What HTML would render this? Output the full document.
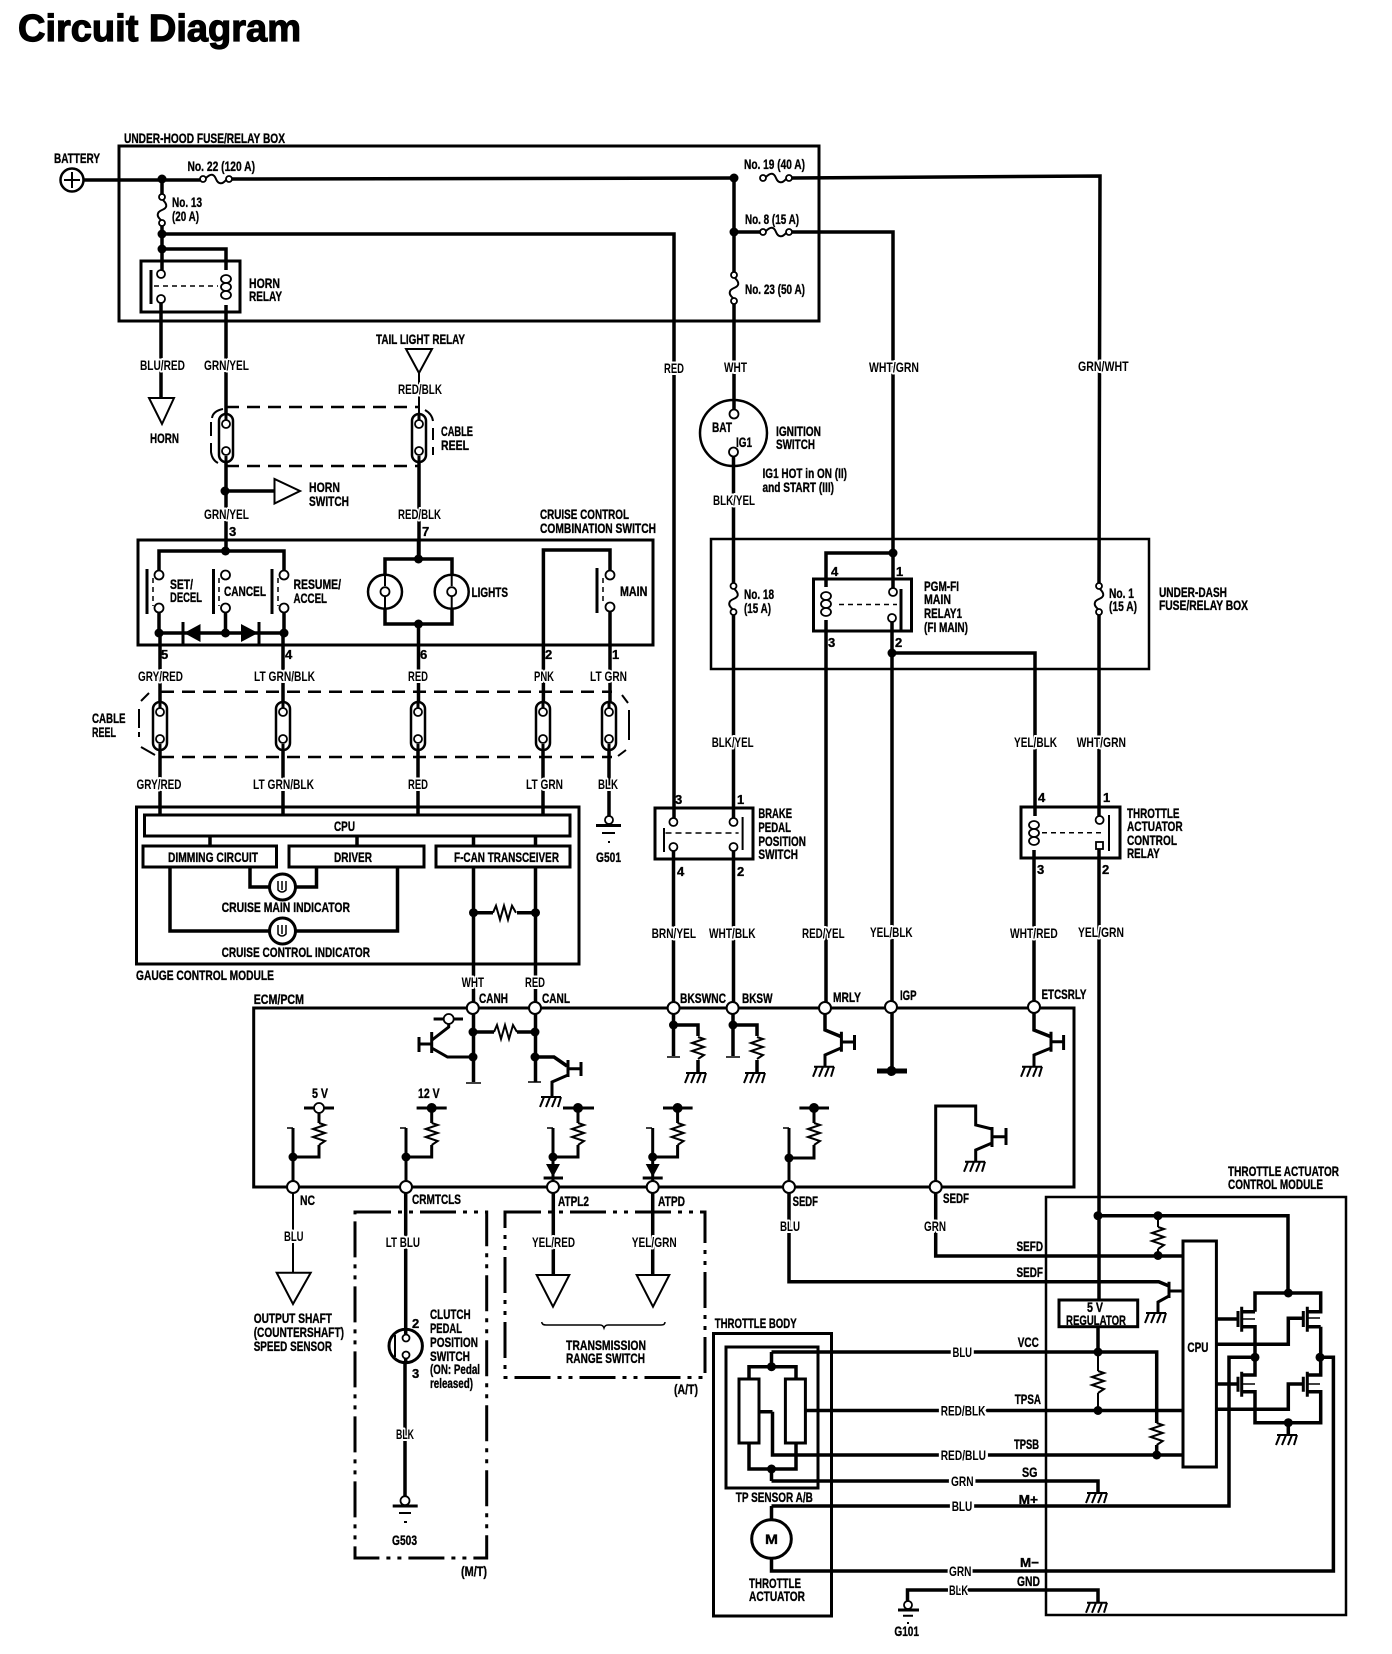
<!DOCTYPE html>
<html><head><meta charset="utf-8"><title>Circuit Diagram</title>
<style>
html,body{margin:0;padding:0;background:#fff}
svg{display:block}
text{font-family:"Liberation Sans",sans-serif;font-weight:700;font-size:14px;fill:#000;stroke:#000;stroke-width:.35px}
.h{paint-order:stroke;stroke:#fff;stroke-width:4px;stroke-linejoin:round}
.n13{font-size:13px}
.w{fill:none;stroke:#000;stroke-width:3.5;stroke-linejoin:miter}
.b{fill:none;stroke:#000;stroke-width:3}
.t{fill:none;stroke:#000;stroke-width:2}
.f{fill:none;stroke:#000;stroke-width:1.5}
.d{fill:none;stroke:#000;stroke-width:2.5;stroke-dasharray:13 8}
.dd{fill:none;stroke:#000;stroke-width:3;stroke-dasharray:36 7 4 7 4 7}
.k{fill:#000;stroke:none}
.o{fill:#fff;stroke:#000;stroke-width:1.8}
.n{fill:#fff;stroke:#000;stroke-width:2}
.tr{fill:#fff;stroke:#000;stroke-width:2}
</style></head><body>
<svg width="1392" height="1654" viewBox="0 0 1392 1654" xmlns="http://www.w3.org/2000/svg">
<defs>
<g id="hat"><path class="t" d="M-10 0H10M-7 0L-11 10M-1 0L-5 10M5 0L1 10M10 0L7 10"/></g>
<path id="rv" class="t" d="M0 0L6 2L-6 6L6 10L-6 14L6 18L0 22"/>
<path id="rh" class="t" d="M0 0L3 -7L7 7L11 -7L15 7L19 -7L23 0"/>
<g id="fh"><path class="t" d="M3 -1C8 -6 11 -5 13 0C15 5 19 6 23 1"/><circle class="o" cx="0" cy="0" r="3"/><circle class="o" cx="26" cy="0" r="3"/></g>
<g id="fv"><path class="t" d="M1 3C6 8 5 11 0 13C-5 15 -6 19 -1 23"/><circle class="o" cx="0" cy="0" r="3"/><circle class="o" cx="0" cy="26" r="3"/></g>
<g id="cr"><rect x="-7" y="0" width="14" height="48" rx="7" fill="#fff" stroke="#000" stroke-width="2.5"/><path class="b" d="M0 0V6M0 42V48"/><circle class="o" cx="0" cy="10" r="4"/><circle class="o" cx="0" cy="37" r="4"/></g>
<g id="coil"><ellipse class="o" cx="0" cy="4" rx="5" ry="4"/><ellipse class="o" cx="0" cy="12" rx="5" ry="4"/><ellipse class="o" cx="0" cy="20" rx="5" ry="4"/></g>
<circle id="j" class="k" r="4.5"/>
</defs>

<!-- title -->
<text x="18" y="41" textLength="283" lengthAdjust="spacingAndGlyphs" style="font-size:38px;stroke-width:1.2px">Circuit Diagram</text>

<!-- boxes -->
<rect class="b" x="119" y="146" width="700" height="175"/>
<rect class="b" x="141" y="261" width="99" height="51"/>
<rect class="t" x="711" y="539" width="438" height="130" style="stroke-width:2.5"/>
<rect class="b" x="138" y="540" width="515" height="105"/>
<rect class="b" x="813.5" y="579" width="98" height="52"/>
<rect class="b" x="655" y="808" width="98" height="51"/>
<rect class="b" x="1021" y="807" width="99" height="51"/>
<rect class="b" x="136.5" y="807" width="442.5" height="157"/>
<rect class="b" x="144.5" y="815" width="425.5" height="21"/>
<rect class="b" x="143" y="846" width="133.5" height="21"/>
<rect class="b" x="289" y="846" width="135" height="21"/>
<rect class="b" x="436" y="846" width="134" height="21"/>
<path class="b" d="M253.7 1008H1074V1187H253.7Z"/>
<rect class="dd" x="355" y="1212" width="131.7" height="346"/>
<rect class="dd" x="505" y="1212" width="200" height="165.500"/>
<rect class="b" x="713.500" y="1333.500" width="118" height="282.500"/>
<rect class="b" x="726" y="1347" width="92" height="141"/>
<rect class="t" x="1046" y="1197" width="300" height="418" style="stroke-width:2.5"/>

<!-- top wires -->
<circle cx="72" cy="180" r="11.500" fill="#fff" stroke="#000" stroke-width="2.500"/>
<path class="t" d="M64 180H80M72 172V188"/>
<path class="w" d="M84 180H200M232 179L734 178M792 178L1100 176L1099 583M1099 614V816M1099 849V1300"/>
<use href="#fh" x="203" y="179"/><use href="#fh" x="763" y="178"/><use href="#fh" x="763" y="232"/>
<path class="w" d="M734 178V272M734 302V410M733.500 455V583M733.500 615V818M733.500 851V1008"/>
<use href="#fv" x="734" y="275"/><use href="#fv" x="733.500" y="586"/><use href="#fv" x="1099" y="586"/>
<path class="w" d="M734 232H760M792 232H893V588M892 622V1071"/>
<path class="w" d="M893 553H826V587M826 620V1008"/>
<path class="w" d="M892 653H1035V816M1034 850V1008"/>
<path class="w" d="M162 179V194M162 226V270M161 303V398"/>
<use href="#fv" x="162" y="197"/>
<path class="w" d="M162 234H674V818M673.500 851V1008"/>
<path class="w" d="M162 249H226V270M226 305V551"/>
<use href="#j" x="162" y="179"/><use href="#j" x="162" y="234"/><use href="#j" x="162" y="249"/>
<use href="#j" x="734" y="178"/><use href="#j" x="734" y="232"/><use href="#j" x="893" y="553"/><use href="#j" x="892" y="653"/>
<!-- horn relay -->
<circle class="o" cx="161" cy="274" r="4"/><circle class="o" cx="161" cy="299" r="4"/>
<path class="b" d="M151 270V304"/><path class="f" d="M154 286H218" stroke-dasharray="5 4"/>
<use href="#coil" x="226" y="275"/>
<polygon class="tr" points="149,398 174,398 162,424"/>
<!-- tail light -->
<polygon class="tr" points="406,349 432,349 419,373"/>
<path class="t" d="M419 373V414"/>
<path class="w" d="M419 461V559"/>
<path class="d" d="M226 407H418M226 466H418"/>
<use href="#cr" x="226" y="414"/><use href="#cr" x="419" y="414"/>
<path class="t" d="M223 409Q213 411 212 418M211 422V436M211 443V452Q212 460 218 463M425 410Q432 414 433 421M433 428V440M433 447V455"/>
<path class="w" d="M226 491H274"/><use href="#j" x="225" y="491"/>
<polygon class="tr" points="274.500,479 274.500,503.500 300,491"/>
<!-- ignition -->
<ellipse cx="733.500" cy="433" rx="33.500" ry="33" fill="#fff" stroke="#000" stroke-width="2.500"/>
<path class="w" d="M734 399V410M733.500 456V467"/>
<circle class="o" cx="734" cy="414" r="4.500"/><circle class="o" cx="733.500" cy="452" r="4.500"/>
<!-- pgm relay -->
<use href="#coil" x="826" y="592"/>
<circle class="o" cx="893" cy="592" r="4"/><circle class="o" cx="892" cy="618" r="4"/>
<path class="b" d="M901 589V632"/><path class="f" d="M839 604.500H897" stroke-dasharray="5 4"/>
<!-- switch box -->
<path class="w" d="M159 570V551H284V570M159 612V633M225.500 612V633M284 612V633M159 633H284M160 633V702M283 633V702"/>
<circle class="o" cx="159" cy="575" r="4.500"/><circle class="o" cx="159" cy="608" r="4.500"/>
<circle class="o" cx="225.500" cy="575" r="4.500"/><circle class="o" cx="225.500" cy="608" r="4.500"/>
<circle class="o" cx="284" cy="575" r="4.500"/><circle class="o" cx="284" cy="608" r="4.500"/>
<path class="b" d="M147 569V614M213.500 569V614M272 569V614"/>
<path class="f" d="M153 578V606M219 578V606M278 578V606" stroke-dasharray="5 4"/>
<polygon class="k" points="200.500,624 200.500,642 184,633"/><path class="b" d="M183 622V644"/>
<polygon class="k" points="241,624 241,642 258,633"/><path class="b" d="M259 622V644"/>
<use href="#j" x="159" y="633"/><use href="#j" x="225.500" y="633"/><use href="#j" x="284" y="633"/><use href="#j" x="225.500" y="551"/>
<path class="w" d="M418.500 540V559M385 559H452V624H385ZM418.500 624V702"/>
<use href="#j" x="418.500" y="559"/><use href="#j" x="418.500" y="624"/>
<circle cx="385" cy="591.700" r="17" fill="#fff" stroke="#000" stroke-width="2.500"/>
<circle cx="451.700" cy="591.700" r="17" fill="#fff" stroke="#000" stroke-width="2.500"/>
<path class="t" d="M385 575V586M385 597V608M451.700 575V586M451.700 597V608"/>
<circle class="o" cx="385" cy="591.700" r="4.500"/><circle class="o" cx="451.700" cy="591.700" r="4.500"/>
<path class="w" d="M543.400 702V550H610V571M610 611V702"/>
<circle class="o" cx="610" cy="575" r="4.500"/><circle class="o" cx="610" cy="607" r="4.500"/>
<path class="b" d="M597 568V613"/><path class="f" d="M603 578V604" stroke-dasharray="5 4"/>
<!-- cable reel 2 -->
<path class="d" d="M161 691.700H612M161 757H612"/>
<path class="t" d="M149 693L141 701M139 709V728M139 732V737M141 747L155 755M622 695L628 703M629 710V740M626 750L618 756"/>
<use href="#cr" x="160" y="702"/><use href="#cr" x="283" y="702"/><use href="#cr" x="418" y="702"/><use href="#cr" x="543" y="702"/><use href="#cr" x="609" y="702"/>
<path class="w" d="M160 750V815M283 750V815M418 750V815M543 750V815M609 750V817"/>
<circle class="o" cx="609" cy="820" r="4"/>
<path class="b" d="M596 825.500H621"/><path class="t" d="M602 833H615M608 842H610"/>
<!-- gauge inner -->
<path class="w" d="M210 836V846M357 836V846M473.500 836V846M535.500 836V846"/>
<path class="w" d="M250 867V887H269M296 887H316.500V867M170 867V931H269M296 931H397.500V867"/>
<circle cx="282.500" cy="887" r="13" fill="#fff" stroke="#000" stroke-width="3"/>
<circle cx="282.500" cy="931" r="13" fill="#fff" stroke="#000" stroke-width="3"/>
<path class="f" d="M278 881V890Q282 894 286 890V881M282 881V890M278 925V934Q282 938 286 934V925M282 925V934"/>
<path class="w" d="M473.500 867V1082M535.500 867V1082"/>
<path class="w" d="M473.500 912.700H493M517 912.700H535.500"/><use href="#rh" x="493" y="912.700"/>
<use href="#j" x="473.500" y="912.700"/><use href="#j" x="535.500" y="912.700"/>
<!-- ECM inner -->
<path class="w" d="M473 1032H494M517 1032H535"/><use href="#rh" x="494" y="1032"/>
<use href="#j" x="473" y="1032"/><use href="#j" x="535" y="1032"/><use href="#j" x="473" y="1057"/><use href="#j" x="535" y="1057"/>
<path class="f" d="M466 1083H481M528 1082H541"/>
<path class="b" d="M433.600 1019H463M448.700 1019V1027L432 1040"/><circle class="o" cx="448.700" cy="1019" r="5"/>
<path class="b" d="M431.700 1032V1053M419 1044H431.700M419 1037V1052M431.700 1048L447.500 1057H473"/>
<path class="w" d="M535 1057H554L567 1066"/>
<path class="b" d="M568 1060V1077M568 1068.700H581M581 1062V1076M568 1075L552 1082V1097"/>
<use href="#hat" x="551" y="1097"/>
<!-- bk -->
<path class="w" d="M673.500 1007V1056M673.500 1025H698V1036M698 1060V1073M733 1007V1056M733 1025H757V1036M757 1060V1073"/>
<path class="f" d="M667 1057H680M726 1057H740"/>
<use href="#j" x="673.500" y="1025"/><use href="#j" x="733" y="1025"/>
<use href="#rv" x="698" y="1037"/><use href="#rv" x="757" y="1037"/>
<use href="#hat" x="696" y="1073"/><use href="#hat" x="755" y="1073"/>
<!-- MRLY -->
<path class="w" d="M825 1007V1030L841.400 1036.700"/>
<path class="b" d="M841.400 1031.700V1051.700M841.400 1042H854.500M854.500 1035V1050M841 1048L825 1055V1066.700"/>
<use href="#hat" x="824" y="1066.700"/>
<path class="w" d="M877 1071H907" style="stroke-width:5"/><circle class="k" cx="891.500" cy="1071" r="5"/>
<!-- ETCSRLY -->
<path class="w" d="M1034 1007V1030L1051 1036.700"/>
<path class="b" d="M1051 1031.700V1051.700M1051 1041.700H1063.600M1063.600 1035V1050M1051 1048L1034 1055V1066.700"/>
<use href="#hat" x="1032" y="1066.700"/>
<!-- pull-ups -->
<path class="b" d="M293 1128V1187M293 1157H319V1145M319 1123V1108M304 1108H334M406 1128V1187M406 1157H431.700V1145M431.700 1123V1108M416.600 1108H446.700M553 1128V1187M553 1157H578V1145M578 1123V1108M563 1108H594M652.700 1128V1187M652.700 1157H677.600V1145M677.600 1123V1108M663 1108H692.600M789 1128V1187M789 1158H814V1145M814 1123V1108M799.400 1108H829"/>
<path class="f" d="M287 1128H293M400 1128H406M547 1128H553M646 1128H652M783 1128H789"/>
<use href="#rv" x="319" y="1123"/><use href="#rv" x="431.700" y="1123"/><use href="#rv" x="578" y="1123"/><use href="#rv" x="677.600" y="1123"/><use href="#rv" x="814" y="1123"/>
<circle class="o" cx="319" cy="1108" r="5"/>
<circle class="k" cx="431.700" cy="1108" r="5"/><circle class="k" cx="578" cy="1108" r="5"/><circle class="k" cx="677.600" cy="1108" r="5"/><circle class="k" cx="814" cy="1108" r="5"/>
<use href="#j" x="293" y="1157"/><use href="#j" x="406" y="1157"/><use href="#j" x="553" y="1157"/><use href="#j" x="652.700" y="1157"/><use href="#j" x="789" y="1158"/>
<polygon class="k" points="546,1164 560,1164 553,1177"/><path class="b" d="M543.600 1178H563"/>
<polygon class="k" points="645.700,1164 659.700,1164 652.700,1177"/><path class="b" d="M642.700 1178H662.700"/>
<!-- lower left transistor -->
<path class="b" d="M935.700 1187V1106H975.700V1125L992 1129M992 1127V1147M992 1136.700H1006.700M1006 1128V1145M992 1143L975.700 1150V1161.700"/>
<use href="#hat" x="975" y="1161.700"/>
<!-- sensors -->
<path class="t" d="M293 1187V1273"/><polygon class="tr" points="276.700,1272.700 310.700,1272.700 293,1304"/>
<path class="w" d="M405.700 1187V1340M405 1358V1497"/>
<circle cx="405.700" cy="1346" r="16.700" fill="#fff" stroke="#000" stroke-width="3"/>
<path class="t" d="M395 1335V1357"/><path class="w" d="M405.700 1328V1334M405.700 1359V1364"/>
<circle class="o" cx="406" cy="1338" r="3.500"/><circle class="o" cx="406" cy="1355" r="3.500"/>
<circle class="o" cx="405" cy="1500.700" r="4.500"/><path class="b" d="M392.700 1506H417.700"/><path class="t" d="M399 1513H411M404 1522H407"/>
<path class="w" d="M553.300 1187V1275M652.700 1187V1275"/>
<polygon class="tr" points="536.700,1275 569.300,1275 553,1306.700"/>
<polygon class="tr" points="636.700,1275 669.300,1275 653,1306.700"/>
<path class="f" d="M541.700 1322Q542 1325 546 1325H600Q603 1325 604 1328Q605 1325 608 1325H661Q665 1325 665 1322"/>
<!-- brake relay -->
<circle class="o" cx="673.400" cy="822" r="4"/><circle class="o" cx="673.400" cy="847" r="4"/>
<circle class="o" cx="733.500" cy="822" r="4"/><circle class="o" cx="733.500" cy="847" r="4"/>
<path class="t" d="M664 828V852M742.600 817V850"/>
<path class="f" d="M665.500 833H738.600" stroke-dasharray="6 4"/>
<!-- throttle relay -->
<use href="#coil" x="1034" y="821"/>
<circle class="o" cx="1099.600" cy="820" r="4"/><rect x="1096" y="842" width="7" height="7" fill="#fff" stroke="#000" stroke-width="1.800"/>
<path class="t" d="M1109 815V851"/><path class="f" d="M1042 832.700H1105" stroke-dasharray="5 4"/>
<!-- TACM -->
<path class="w" d="M789 1187V1281.700H1158.700L1169 1286"/>
<path class="w" d="M935.700 1187V1256H1183"/>
<path class="b" d="M1169 1281.700V1298M1169 1291H1183M1169 1296L1158 1302V1313"/><use href="#hat" x="1156" y="1313"/>
<rect x="1183" y="1241" width="33.400" height="226" fill="#fff" stroke="#000" stroke-width="3"/>
<path class="w" d="M1098 1215.700H1288V1293"/>
<use href="#j" x="1098" y="1215.700"/><use href="#j" x="1158" y="1215.700"/><use href="#j" x="1158" y="1255.500"/>
<path class="t" d="M1158 1215.700V1227M1158 1249V1255"/><use href="#rv" x="1158" y="1227"/>
<rect x="1059" y="1300" width="78.700" height="26.700" fill="#fff" stroke="#000" stroke-width="3"/>
<path class="w" d="M1098 1327V1352"/>
<path class="w" d="M771.500 1352H1156.700V1423M1156.700 1445V1455"/>
<use href="#rv" x="1156.700" y="1423"/>
<path class="t" d="M1098 1352V1371M1098 1393V1410"/><use href="#rv" x="1098" y="1371"/>
<use href="#j" x="1098" y="1352"/><use href="#j" x="1098" y="1410.500"/><use href="#j" x="1156.700" y="1455"/>
<path class="w" d="M805 1410.500H1183M1216 1409.300H1288.300V1384H1303M1216 1344.300H1288.300V1318.300H1303"/>
<path class="w" d="M772.500 1411.700H759M772.500 1411.700V1455H1183"/>
<path class="w" d="M771.500 1481H1098V1493"/><use href="#hat" x="1097" y="1493"/>
<path class="w" d="M771.500 1506H1229V1357.300H1255"/>
<path class="w" d="M771.500 1506V1520M771.500 1558V1571H1333.400V1357.300H1320.700"/>
<path class="w" d="M907.500 1603V1590H1098V1602.700"/><use href="#hat" x="1097" y="1602.700"/>
<circle class="o" cx="908" cy="1605" r="4"/><path class="b" d="M898 1610H919"/><path class="t" d="M903 1615.700H913M907 1623H909"/>
<!-- bridge -->
<path class="w" d="M1255 1311.700V1293H1320.700V1311.700H1307M1241.700 1311.700H1255M1241.700 1326.700H1255V1375H1241.700M1241.700 1391.700H1255V1422.700H1320.700V1391.700H1307M1320.700 1326.700V1375H1307M1320.700 1326.700H1307"/>
<path class="w" d="M1288.300 1422.700V1435"/><use href="#hat" x="1287" y="1435"/>
<path class="b" d="M1241.700 1306.700V1331.700M1241.700 1371.700V1396.700M1307.300 1306.700V1331.700M1307.300 1371.700V1396.700M1238 1311V1327M1238 1376.700V1391.700M1303.300 1311V1327M1303.300 1376.700V1391.700"/>
<path class="w" d="M1216 1319H1238M1216 1384H1238"/>
<path class="f" d="M1242 1319H1255M1242 1384H1255M1308 1318H1320M1308 1384H1320"/>
<use href="#j" x="1288.300" y="1293"/><use href="#j" x="1288.300" y="1422.700"/><use href="#j" x="1255" y="1357.300"/><use href="#j" x="1320" y="1357.300"/>
<!-- TP sensor -->
<path class="w" d="M771.500 1352V1366.700M749 1379V1366.700H796V1379M749 1443V1469H796V1443M771.500 1469V1481"/>
<use href="#j" x="771.500" y="1366.700"/><use href="#j" x="771.500" y="1469"/>
<rect x="739" y="1379" width="20" height="64" fill="#fff" stroke="#000" stroke-width="3"/>
<rect x="785.400" y="1379" width="20" height="64" fill="#fff" stroke="#000" stroke-width="3"/>
<ellipse cx="771.500" cy="1539" rx="19.800" ry="19.300" fill="#fff" stroke="#000" stroke-width="3"/>
<!-- nodes -->
<circle class="n" cx="472.800" cy="1008" r="6"/><circle class="n" cx="535" cy="1008" r="6"/><circle class="n" cx="673.600" cy="1008" r="6"/><circle class="n" cx="732.600" cy="1008" r="6"/><circle class="n" cx="825" cy="1008" r="6"/><circle class="n" cx="891" cy="1007" r="6"/><circle class="n" cx="1034" cy="1007" r="6"/>
<circle class="n" cx="293" cy="1187" r="6"/><circle class="n" cx="406" cy="1187" r="6"/><circle class="n" cx="553" cy="1187" r="6"/><circle class="n" cx="652.700" cy="1187" r="6"/><circle class="n" cx="789" cy="1187" r="6"/><circle class="n" cx="935.700" cy="1187" r="6"/>

<!-- labels -->
<g>
<text x="124" y="143" textLength="161" lengthAdjust="spacingAndGlyphs">UNDER-HOOD FUSE/RELAY BOX</text>
<text x="54" y="163" textLength="46" lengthAdjust="spacingAndGlyphs">BATTERY</text>
<text x="187.500" y="171" textLength="67.500" lengthAdjust="spacingAndGlyphs">No. 22 (120 A)</text>
<text x="172" y="207" textLength="30" lengthAdjust="spacingAndGlyphs">No. 13</text>
<text x="172" y="221" textLength="27" lengthAdjust="spacingAndGlyphs">(20 A)</text>
<text x="249" y="288" textLength="31" lengthAdjust="spacingAndGlyphs">HORN</text>
<text x="249" y="301" textLength="33" lengthAdjust="spacingAndGlyphs">RELAY</text>
<text class="h" x="140" y="370" textLength="45" lengthAdjust="spacingAndGlyphs">BLU/RED</text>
<text class="h" x="204" y="370" textLength="45" lengthAdjust="spacingAndGlyphs">GRN/YEL</text>
<text x="150" y="443" textLength="29" lengthAdjust="spacingAndGlyphs">HORN</text>
<text x="376" y="344" textLength="89" lengthAdjust="spacingAndGlyphs">TAIL LIGHT RELAY</text>
<text class="h" x="398" y="394" textLength="44" lengthAdjust="spacingAndGlyphs">RED/BLK</text>
<text x="441" y="436" textLength="32" lengthAdjust="spacingAndGlyphs">CABLE</text>
<text x="441" y="450" textLength="28" lengthAdjust="spacingAndGlyphs">REEL</text>
<text x="309" y="492" textLength="31" lengthAdjust="spacingAndGlyphs">HORN</text>
<text x="309" y="506" textLength="40" lengthAdjust="spacingAndGlyphs">SWITCH</text>
<text class="h" x="204" y="519" textLength="45" lengthAdjust="spacingAndGlyphs">GRN/YEL</text>
<text class="h" x="398" y="519" textLength="43" lengthAdjust="spacingAndGlyphs">RED/BLK</text>
<text class="n13" x="229" y="536">3</text><text class="n13" x="422" y="536">7</text>
<text x="540" y="519" textLength="89" lengthAdjust="spacingAndGlyphs">CRUISE CONTROL</text>
<text x="540" y="533" textLength="116" lengthAdjust="spacingAndGlyphs">COMBINATION SWITCH</text>
<text class="h" x="664" y="373" textLength="20" lengthAdjust="spacingAndGlyphs">RED</text>
<text x="744" y="169" textLength="61" lengthAdjust="spacingAndGlyphs">No. 19 (40 A)</text>
<text x="745" y="224" textLength="54" lengthAdjust="spacingAndGlyphs">No. 8 (15 A)</text>
<text x="745" y="294" textLength="60" lengthAdjust="spacingAndGlyphs">No. 23 (50 A)</text>
<text class="h" x="724" y="372" textLength="23" lengthAdjust="spacingAndGlyphs">WHT</text>
<text class="h" x="869" y="372" textLength="50" lengthAdjust="spacingAndGlyphs">WHT/GRN</text>
<text class="h" x="1078" y="371" textLength="50.600" lengthAdjust="spacingAndGlyphs">GRN/WHT</text>
<text x="712" y="432" textLength="20" lengthAdjust="spacingAndGlyphs">BAT</text>
<text x="736" y="447" textLength="16" lengthAdjust="spacingAndGlyphs">IG1</text>
<text x="776" y="436" textLength="45" lengthAdjust="spacingAndGlyphs">IGNITION</text>
<text x="776" y="449" textLength="39" lengthAdjust="spacingAndGlyphs">SWITCH</text>
<text x="762.500" y="478" textLength="84.500" lengthAdjust="spacingAndGlyphs">IG1 HOT in ON (II)</text>
<text x="762.500" y="492" textLength="71.500" lengthAdjust="spacingAndGlyphs">and START (III)</text>
<text class="h" x="713" y="505" textLength="42" lengthAdjust="spacingAndGlyphs">BLK/YEL</text>
<text x="744" y="599" textLength="30" lengthAdjust="spacingAndGlyphs">No. 18</text>
<text x="744" y="613" textLength="27" lengthAdjust="spacingAndGlyphs">(15 A)</text>
<text class="n13" x="831" y="576">4</text><text class="n13" x="896" y="576">1</text><text class="n13" x="828" y="647">3</text><text class="n13" x="895" y="647">2</text>
<text x="924" y="591" textLength="35" lengthAdjust="spacingAndGlyphs">PGM-FI</text>
<text x="924" y="604" textLength="27" lengthAdjust="spacingAndGlyphs">MAIN</text>
<text x="924" y="618" textLength="38" lengthAdjust="spacingAndGlyphs">RELAY1</text>
<text x="924" y="632" textLength="44" lengthAdjust="spacingAndGlyphs">(FI MAIN)</text>
<text x="1109" y="598" textLength="25" lengthAdjust="spacingAndGlyphs">No. 1</text>
<text x="1109" y="611" textLength="28" lengthAdjust="spacingAndGlyphs">(15 A)</text>
<text x="1159" y="597" textLength="68" lengthAdjust="spacingAndGlyphs">UNDER-DASH</text>
<text x="1159" y="610" textLength="89" lengthAdjust="spacingAndGlyphs">FUSE/RELAY BOX</text>
<text x="170" y="589" textLength="23" lengthAdjust="spacingAndGlyphs">SET/</text>
<text x="170" y="602" textLength="32" lengthAdjust="spacingAndGlyphs">DECEL</text>
<text x="224" y="596" textLength="42" lengthAdjust="spacingAndGlyphs">CANCEL</text>
<text x="293.500" y="589" textLength="47.500" lengthAdjust="spacingAndGlyphs">RESUME/</text>
<text x="293.500" y="603" textLength="33.500" lengthAdjust="spacingAndGlyphs">ACCEL</text>
<text x="471.500" y="597" textLength="36.500" lengthAdjust="spacingAndGlyphs">LIGHTS</text>
<text x="620" y="596" textLength="27.400" lengthAdjust="spacingAndGlyphs">MAIN</text>
<text class="n13" x="161" y="659">5</text><text class="n13" x="285" y="659">4</text><text class="n13" x="420" y="659">6</text><text class="n13" x="545" y="659">2</text><text class="n13" x="612" y="659">1</text>
<text class="h" x="138" y="681" textLength="45" lengthAdjust="spacingAndGlyphs">GRY/RED</text>
<text class="h" x="254" y="681" textLength="61" lengthAdjust="spacingAndGlyphs">LT GRN/BLK</text>
<text class="h" x="408" y="681" textLength="20" lengthAdjust="spacingAndGlyphs">RED</text>
<text class="h" x="534" y="681" textLength="20" lengthAdjust="spacingAndGlyphs">PNK</text>
<text class="h" x="590" y="681" textLength="37" lengthAdjust="spacingAndGlyphs">LT GRN</text>
<text x="92" y="723" textLength="33.500" lengthAdjust="spacingAndGlyphs">CABLE</text>
<text x="92" y="737" textLength="24" lengthAdjust="spacingAndGlyphs">REEL</text>
<text class="h" x="136.500" y="789" textLength="45" lengthAdjust="spacingAndGlyphs">GRY/RED</text>
<text class="h" x="253" y="789" textLength="61" lengthAdjust="spacingAndGlyphs">LT GRN/BLK</text>
<text class="h" x="408" y="789" textLength="20" lengthAdjust="spacingAndGlyphs">RED</text>
<text class="h" x="526" y="789" textLength="37" lengthAdjust="spacingAndGlyphs">LT GRN</text>
<text class="h" x="598" y="789" textLength="20" lengthAdjust="spacingAndGlyphs">BLK</text>
<text x="596" y="862" textLength="25" lengthAdjust="spacingAndGlyphs">G501</text>
<text x="334" y="831" textLength="21" lengthAdjust="spacingAndGlyphs">CPU</text>
<text x="168" y="862" textLength="90" lengthAdjust="spacingAndGlyphs">DIMMING CIRCUIT</text>
<text x="334" y="862" textLength="38" lengthAdjust="spacingAndGlyphs">DRIVER</text>
<text x="454" y="862" textLength="105" lengthAdjust="spacingAndGlyphs">F-CAN TRANSCEIVER</text>
<text x="221.600" y="912" textLength="128.400" lengthAdjust="spacingAndGlyphs">CRUISE MAIN INDICATOR</text>
<text x="221.600" y="957" textLength="148.400" lengthAdjust="spacingAndGlyphs">CRUISE CONTROL INDICATOR</text>
<text x="136" y="980" textLength="138" lengthAdjust="spacingAndGlyphs">GAUGE CONTROL MODULE</text>
<text class="h" x="461.600" y="987" textLength="22.400" lengthAdjust="spacingAndGlyphs">WHT</text>
<text class="h" x="525" y="987" textLength="20" lengthAdjust="spacingAndGlyphs">RED</text>
<text x="253.700" y="1004" textLength="50.300" lengthAdjust="spacingAndGlyphs">ECM/PCM</text>
<text x="479" y="1003" textLength="29" lengthAdjust="spacingAndGlyphs">CANH</text>
<text x="542" y="1003" textLength="28" lengthAdjust="spacingAndGlyphs">CANL</text>
<text x="680" y="1003" textLength="46" lengthAdjust="spacingAndGlyphs">BKSWNC</text>
<text x="742" y="1003" textLength="30.500" lengthAdjust="spacingAndGlyphs">BKSW</text>
<text x="833" y="1002" textLength="28" lengthAdjust="spacingAndGlyphs">MRLY</text>
<text x="900" y="1000" textLength="16.500" lengthAdjust="spacingAndGlyphs">IGP</text>
<text x="1041.500" y="999" textLength="45" lengthAdjust="spacingAndGlyphs">ETCSRLY</text>
<text class="n13" x="675" y="804">3</text><text class="n13" x="737" y="804">1</text><text class="n13" x="677" y="876">4</text><text class="n13" x="737" y="876">2</text>
<text x="758.400" y="818" textLength="33.600" lengthAdjust="spacingAndGlyphs">BRAKE</text>
<text x="758.400" y="832" textLength="32.600" lengthAdjust="spacingAndGlyphs">PEDAL</text>
<text x="758.400" y="846" textLength="47.600" lengthAdjust="spacingAndGlyphs">POSITION</text>
<text x="758.400" y="859" textLength="39.600" lengthAdjust="spacingAndGlyphs">SWITCH</text>
<text class="h" x="711.700" y="747" textLength="41.900" lengthAdjust="spacingAndGlyphs">BLK/YEL</text>
<text class="h" x="1014" y="747" textLength="43" lengthAdjust="spacingAndGlyphs">YEL/BLK</text>
<text class="h" x="1076.700" y="747" textLength="49.300" lengthAdjust="spacingAndGlyphs">WHT/GRN</text>
<text class="n13" x="1038" y="802">4</text><text class="n13" x="1103" y="802">1</text><text class="n13" x="1037" y="874">3</text><text class="n13" x="1102" y="874">2</text>
<text x="1127" y="818" textLength="52.500" lengthAdjust="spacingAndGlyphs">THROTTLE</text>
<text x="1127" y="831" textLength="55.700" lengthAdjust="spacingAndGlyphs">ACTUATOR</text>
<text x="1127" y="845" textLength="50" lengthAdjust="spacingAndGlyphs">CONTROL</text>
<text x="1127" y="858" textLength="32.700" lengthAdjust="spacingAndGlyphs">RELAY</text>
<text class="h" x="651.600" y="938" textLength="44.400" lengthAdjust="spacingAndGlyphs">BRN/YEL</text>
<text class="h" x="709" y="938" textLength="46.600" lengthAdjust="spacingAndGlyphs">WHT/BLK</text>
<text class="h" x="802" y="938" textLength="42.600" lengthAdjust="spacingAndGlyphs">RED/YEL</text>
<text class="h" x="870" y="937" textLength="42.600" lengthAdjust="spacingAndGlyphs">YEL/BLK</text>
<text class="h" x="1010" y="938" textLength="47.700" lengthAdjust="spacingAndGlyphs">WHT/RED</text>
<text class="h" x="1078" y="937" textLength="46" lengthAdjust="spacingAndGlyphs">YEL/GRN</text>
<text x="312" y="1098" textLength="16" lengthAdjust="spacingAndGlyphs">5 V</text>
<text x="418" y="1098" textLength="21.600" lengthAdjust="spacingAndGlyphs">12 V</text>
<text x="300" y="1205" textLength="15" lengthAdjust="spacingAndGlyphs">NC</text>
<text x="412" y="1204" textLength="49" lengthAdjust="spacingAndGlyphs">CRMTCLS</text>
<text x="558" y="1206" textLength="31" lengthAdjust="spacingAndGlyphs">ATPL2</text>
<text x="658" y="1206" textLength="27" lengthAdjust="spacingAndGlyphs">ATPD</text>
<text x="792.600" y="1206" textLength="25.400" lengthAdjust="spacingAndGlyphs">SEDF</text>
<text x="943" y="1203" textLength="26" lengthAdjust="spacingAndGlyphs">SEDF</text>
<text class="h" x="284" y="1241" textLength="19.500" lengthAdjust="spacingAndGlyphs">BLU</text>
<text class="h" x="780" y="1231" textLength="20" lengthAdjust="spacingAndGlyphs">BLU</text>
<text class="h" x="924" y="1231" textLength="22" lengthAdjust="spacingAndGlyphs">GRN</text>
<text x="253.700" y="1323" textLength="78.300" lengthAdjust="spacingAndGlyphs">OUTPUT SHAFT</text>
<text x="253.700" y="1337" textLength="90.300" lengthAdjust="spacingAndGlyphs">(COUNTERSHAFT)</text>
<text x="253.700" y="1351" textLength="78.300" lengthAdjust="spacingAndGlyphs">SPEED SENSOR</text>
<text class="h" x="385.700" y="1247" textLength="34.300" lengthAdjust="spacingAndGlyphs">LT BLU</text>
<text class="n13" x="412" y="1328">2</text><text class="n13" x="412" y="1378">3</text>
<text x="430" y="1319" textLength="40.700" lengthAdjust="spacingAndGlyphs">CLUTCH</text>
<text x="430" y="1333" textLength="32" lengthAdjust="spacingAndGlyphs">PEDAL</text>
<text x="430" y="1347" textLength="48" lengthAdjust="spacingAndGlyphs">POSITION</text>
<text x="430" y="1361" textLength="40" lengthAdjust="spacingAndGlyphs">SWITCH</text>
<text x="430" y="1374" textLength="50" lengthAdjust="spacingAndGlyphs">(ON: Pedal</text>
<text x="430" y="1388" textLength="43" lengthAdjust="spacingAndGlyphs">released)</text>
<text class="h" x="396" y="1439" textLength="18" lengthAdjust="spacingAndGlyphs">BLK</text>
<text x="392" y="1545" textLength="25" lengthAdjust="spacingAndGlyphs">G503</text>
<text x="461" y="1576" textLength="26" lengthAdjust="spacingAndGlyphs">(M/T)</text>
<text x="674" y="1394" textLength="24" lengthAdjust="spacingAndGlyphs">(A/T)</text>
<text class="h" x="532" y="1247" textLength="43" lengthAdjust="spacingAndGlyphs">YEL/RED</text>
<text class="h" x="631.700" y="1247" textLength="45" lengthAdjust="spacingAndGlyphs">YEL/GRN</text>
<text x="566" y="1350" textLength="80" lengthAdjust="spacingAndGlyphs">TRANSMISSION</text>
<text x="566" y="1363" textLength="79" lengthAdjust="spacingAndGlyphs">RANGE SWITCH</text>
<text x="1228" y="1176" textLength="111" lengthAdjust="spacingAndGlyphs">THROTTLE ACTUATOR</text>
<text x="1228" y="1189" textLength="95" lengthAdjust="spacingAndGlyphs">CONTROL MODULE</text>
<text x="1016.500" y="1251" textLength="26.500" lengthAdjust="spacingAndGlyphs">SEFD</text>
<text x="1016.500" y="1277" textLength="26.500" lengthAdjust="spacingAndGlyphs">SEDF</text>
<text x="1087" y="1312" textLength="16" lengthAdjust="spacingAndGlyphs">5 V</text>
<text x="1066" y="1325" textLength="60" lengthAdjust="spacingAndGlyphs">REGULATOR</text>
<text x="1187.400" y="1352" textLength="21" lengthAdjust="spacingAndGlyphs">CPU</text>
<text x="714.700" y="1328" textLength="82" lengthAdjust="spacingAndGlyphs">THROTTLE BODY</text>
<text class="h" x="952.500" y="1357" textLength="19.500" lengthAdjust="spacingAndGlyphs" style="stroke-width:7px">BLU</text>
<text class="h" x="940.700" y="1415.500" textLength="44.700" lengthAdjust="spacingAndGlyphs" style="stroke-width:7px">RED/BLK</text>
<text class="h" x="940.700" y="1460" textLength="45.300" lengthAdjust="spacingAndGlyphs" style="stroke-width:7px">RED/BLU</text>
<text class="h" x="951" y="1486" textLength="22.600" lengthAdjust="spacingAndGlyphs" style="stroke-width:7px">GRN</text>
<text class="h" x="951.700" y="1511" textLength="20.600" lengthAdjust="spacingAndGlyphs" style="stroke-width:7px">BLU</text>
<text class="h" x="949" y="1576" textLength="22.500" lengthAdjust="spacingAndGlyphs" style="stroke-width:5px">GRN</text>
<text class="h" x="949" y="1595" textLength="19" lengthAdjust="spacingAndGlyphs" style="stroke-width:5px">BLK</text>
<text x="1017.800" y="1347" textLength="21" lengthAdjust="spacingAndGlyphs">VCC</text>
<text x="1014.800" y="1404" textLength="26.200" lengthAdjust="spacingAndGlyphs">TPSA</text>
<text x="1014" y="1449" textLength="25" lengthAdjust="spacingAndGlyphs">TPSB</text>
<text x="1022" y="1477" textLength="15.500" lengthAdjust="spacingAndGlyphs">SG</text>
<text class="n13" x="1018.600" y="1504" textLength="19.400" lengthAdjust="spacingAndGlyphs">M+</text>
<text class="n13" x="1020" y="1567" textLength="19" lengthAdjust="spacingAndGlyphs">M−</text>
<text x="1017" y="1586" textLength="23" lengthAdjust="spacingAndGlyphs">GND</text>
<text x="735.800" y="1502" textLength="77" lengthAdjust="spacingAndGlyphs">TP SENSOR A/B</text>
<text x="765" y="1544" textLength="13" lengthAdjust="spacingAndGlyphs">M</text>
<text x="749" y="1588" textLength="52" lengthAdjust="spacingAndGlyphs">THROTTLE</text>
<text x="749" y="1601" textLength="56" lengthAdjust="spacingAndGlyphs">ACTUATOR</text>
<text x="894.400" y="1636" textLength="24.600" lengthAdjust="spacingAndGlyphs">G101</text>
</g>
</svg>
</body></html>
